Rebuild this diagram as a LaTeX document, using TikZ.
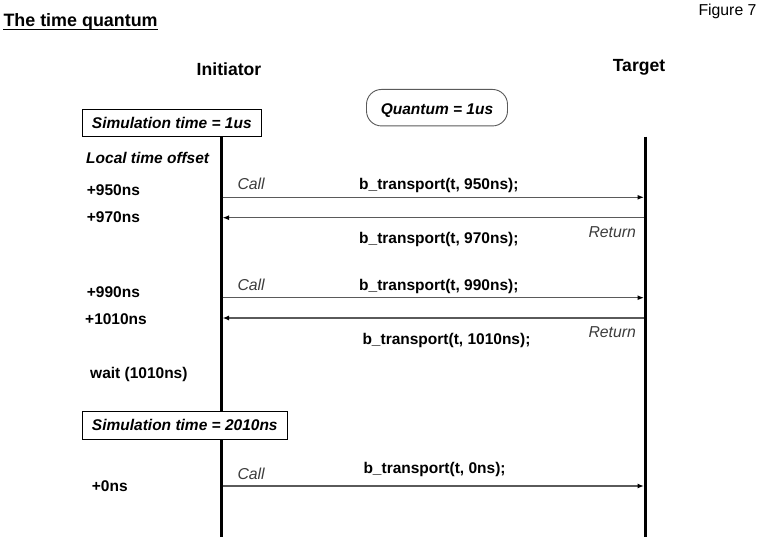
\documentclass[tikz,border=0pt]{standalone}
\usepackage{fontspec}
\setmainfont{Liberation Sans}
\usetikzlibrary{arrows.meta}
\definecolor{arrowgray}{HTML}{5A5A5A}
\definecolor{labelgray}{HTML}{3C3C3C}
\begin{document}
\begin{tikzpicture}[x=1pt,y=-1pt,
  txt/.style={inner sep=0pt, anchor=base west, font=\fontsize{15.5}{18}\selectfont\bfseries},
  itxt/.style={txt, font=\fontsize{15.5}{18}\selectfont\bfseries\itshape},
  ltxt/.style={inner sep=0pt, anchor=base west, text=labelgray, font=\fontsize{15.8}{18}\selectfont\itshape},
  head/.style={inner sep=0pt, anchor=base, font=\fontsize{17.6}{20}\selectfont\bfseries},
  simbox/.style={draw=black, line width=0.9pt, fill=white, inner sep=0pt, text height=11pt, text depth=0.6pt,
    minimum height=27.5pt, font=\fontsize{15.5}{18}\selectfont\bfseries\itshape},
  qbox/.style={draw=arrowgray, line width=0.9pt, rounded corners=15pt, inner sep=0pt, text height=13.2pt, text depth=0pt,
    minimum width=141pt, minimum height=36.5pt, font=\fontsize{15.5}{18}\selectfont\bfseries\itshape},
  life/.style={line width=3pt, black},
  msg/.style={draw=arrowgray, line width=1.3pt, -{Latex[length=6.5pt,width=5pt,color=black]}}
]
\useasboundingbox (0,0) rectangle (760,537);

% title and headers
\node[inner sep=0pt, anchor=base west, font=\fontsize{17.9}{20}\selectfont\bfseries] (title) at (3.3,26.7) {The time quantum};
\draw[line width=1.3pt] ([yshift=-2.8pt]title.base west) -- ([yshift=-2.8pt]title.base east);
\node[inner sep=0pt, anchor=base west, font=\fontsize{15.8}{18}\selectfont] (fig) at (698.3,16) {Figure 7};
\node[head] (init) at (229,76) {Initiator};
\node[head] (targ) at (639,71.7) {Target};

\node[qbox] (quantum) at (437,107.7) {Quantum = 1us};

% lifelines
\coordinate (itop) at (221,137.3);
\coordinate (ibot) at (221,537);
\coordinate (ttop) at (645.5,136.7);
\coordinate (tbot) at (645.5,537);
\draw[life] (itop) -- (ibot);
\draw[life] (ttop) -- (tbot);

\node[simbox, minimum width=179pt] (sim1) at (171.8,123.2) {Simulation time = 1us};
\node[simbox, minimum width=205pt] (sim2) at (184.8,425.2) {Simulation time = 2010ns};

% left-hand labels
\node[itxt] (lto) at (86,163.3) {Local time offset};
\node[txt] (o950) at (86.7,196) {+950ns};
\node[txt] (o970) at (86.7,223) {+970ns};
\node[txt] (o990) at (86.7,297.3) {+990ns};
\node[txt] (o1010) at (85,324) {+1010ns};
\node[txt] (wait) at (90,378.3) {wait (1010ns)};
\node[txt] (o0) at (91.7,491.7) {+0ns};

% message end points
\coordinate (ia) at (222.5,197.3);  \coordinate (ta) at (644,197.3);
\coordinate (ib) at (222.5,217.7);  \coordinate (tb) at (644,217.7);
\coordinate (ic) at (222.5,297.7);  \coordinate (tc) at (644,297.7);
\coordinate (id) at (222.5,318);    \coordinate (td) at (644,318);
\coordinate (ie) at (222.5,486);    \coordinate (te) at (644,486);

\draw[msg] (ia) -- (ta);
\draw[msg] (tb) -- (ib);
\draw[msg] (ic) -- (tc);
\draw[msg] (td) -- (id);
\draw[msg] (ie) -- (te);

% message labels
\node[ltxt] (call1) at (237.3,190) {Call};
\node[ltxt] (call2) at (237.3,290.7) {Call};
\node[ltxt] (call3) at (237.3,479) {Call};
\node[ltxt] (ret1) at (588.3,237.7) {Return};
\node[ltxt] (ret2) at (588.3,337.7) {Return};

\node[txt] (bt1) at (359,190) {b\_transport(t, 950ns);};
\node[txt] (bt2) at (359,244) {b\_transport(t, 970ns);};
\node[txt] (bt3) at (359,290.7) {b\_transport(t, 990ns);};
\node[txt] (bt4) at (362.3,344) {b\_transport(t, 1010ns);};
\node[txt] (bt5) at (363.3,473.3) {b\_transport(t, 0ns);};
\end{tikzpicture}
\end{document}
